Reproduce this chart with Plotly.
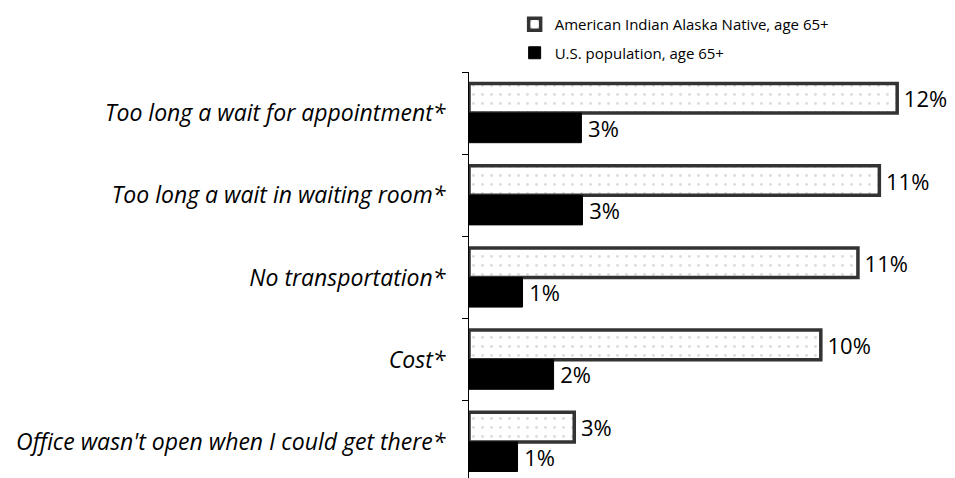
import plotly.graph_objects as go

categories = [
    "Too long a wait for appointment*",
    "Too long a wait in waiting room*",
    "No transportation*",
    "Cost*",
    "Office wasn't open when I could get there*",
]
aian_values = [12.0, 11.5, 10.9, 9.86, 2.95]
aian_labels = ["12%", "11%", "11%", "10%", "3%"]
us_values = [3.15, 3.18, 1.5, 2.37, 1.36]
us_labels = ["3%", "3%", "1%", "2%", "1%"]
series_names = ["American Indian Alaska Native, age 65+", "U.S. population, age 65+"]

FONT = "Open Sans"

fig = go.Figure()
fig.add_trace(go.Bar(
    y=categories, x=aian_values, orientation="h", name=series_names[0],
    text=aian_labels, texttemplate="\u2009%{text}", textposition="outside",
    cliponaxis=False, constraintext="none",
    textfont=dict(size=22, color="black", family=FONT),
    marker=dict(color="white", line=dict(color="#333333", width=3.5),
                pattern=dict(shape=".", fgcolor="#b8b8b8", bgcolor="white",
                             size=9, solidity=0.08)),
    legendgroup="a",
))
fig.add_trace(go.Bar(
    y=categories, x=us_values, orientation="h", name=series_names[1],
    text=us_labels, texttemplate="\u2009%{text}", textposition="outside",
    cliponaxis=False, constraintext="none",
    textfont=dict(size=22, color="black", family=FONT),
    marker=dict(color="black", line=dict(color="black", width=1)),
    legendgroup="b",
))

# page body adds an 8px offset, so the figure is laid out relative to that
fig.update_layout(
    width=947, height=475,
    margin=dict(l=461, r=20, t=64, b=0, autoexpand=False),
    barmode="group", bargap=0.28, bargroupgap=0,
    plot_bgcolor="white", paper_bgcolor="white",
    font=dict(family=FONT, color="black"),
    showlegend=True,
    legend=dict(x=0.535, y=1.012, xref="container", yref="container",
                xanchor="left", yanchor="top",
                font=dict(size=15, family=FONT, color="black"),
                tracegroupgap=6, bgcolor="rgba(0,0,0,0)", itemwidth=30),
)
fig.update_xaxes(range=[0, 13.06], visible=False, showgrid=False, zeroline=False)
fig.update_yaxes(
    autorange="reversed", showline=True, linecolor="black", linewidth=1,
    ticks="outside", tickson="boundaries", ticklen=6, tickcolor="black",
    showgrid=False, ticklabelstandoff=18,
    tickfont=dict(size=23, family=FONT, color="black", style="italic"),
)

fig.write_html("out.html")
